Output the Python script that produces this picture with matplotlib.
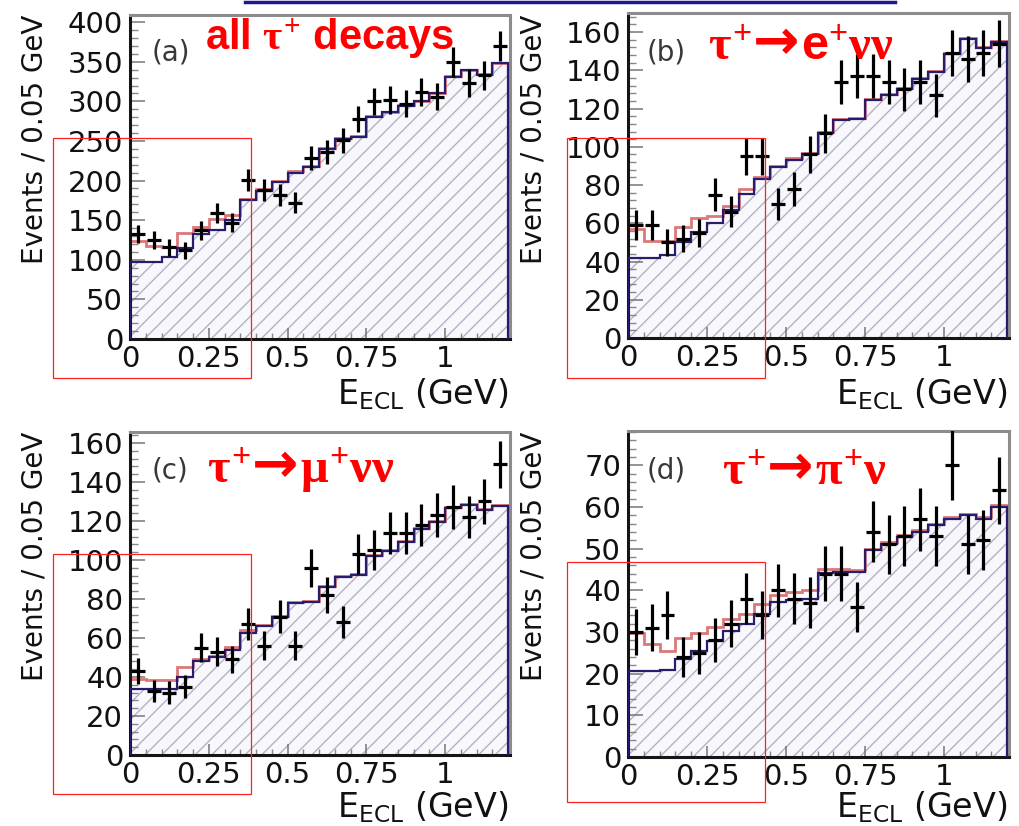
import numpy as np
import matplotlib
matplotlib.use("Agg")
import matplotlib.pyplot as plt
from matplotlib.ticker import MultipleLocator, FuncFormatter
from matplotlib.patches import Rectangle
from matplotlib.lines import Line2D
from matplotlib.offsetbox import TextArea, HPacker, AnchoredOffsetbox

# ---------------- data ----------------
BIN_WIDTH = 0.05
N_BINS = 24
X_MAX = 1.206

# (a) all tau+ decays
data_a = [133, 125, 116, 112, 137, 159, 147, 201, 188, 182, 172, 229,
          236, 251, 278, 300, 302, 297, 312, 306, 350, 323, 333, 370]
err_a = [11.5, 11.2, 10.8, 10.6, 11.7, 12.6, 12.1, 14.2, 13.7, 13.5, 13.1, 15.1,
         15.4, 15.8, 16.7, 17.3, 17.4, 17.2, 17.7, 17.5, 18.7, 18.0, 18.2, 19.2]
total_a = [124, 117, 116, 134, 142, 151, 157, 177, 189, 200, 212, 219,
           241, 254, 256, 281, 287, 296, 301, 311, 332, 340, 334, 349]
bkg_a = [97, 97, 103, 115, 133, 137, 150, 175, 187, 198, 210, 217,
         240, 253, 255, 280, 286, 294, 300, 310, 331, 339, 333, 348]

# (b) tau+ -> e+ nu nu
data_b = [59, 59, 50, 52, 55, 75, 66, 95, 95, 70, 78, 96,
          107, 134, 137, 137, 134, 130, 134, 127, 149, 146, 149, 154]
err_b = [7.7, 7.7, 7.1, 7.2, 7.4, 8.7, 8.1, 9.7, 9.7, 8.4, 8.8, 9.8,
         10.3, 11.6, 11.7, 11.7, 11.6, 11.4, 11.6, 11.3, 12.2, 12.1, 12.2, 12.4]
total_b = [57, 51, 51, 58, 63, 64, 69, 78, 84, 90, 94, 97,
           107.5, 114.5, 115, 125, 127.5, 131, 136, 139.5, 149, 157, 152, 155.5]
bkg_b = [42, 42, 43.5, 50, 55.5, 60, 67, 75.5, 83, 89.5, 93, 96.5,
         107, 114, 114.5, 124.5, 127, 130.5, 135.5, 139, 148.7, 156.6, 151.5, 155]

# (c) tau+ -> mu+ nu nu
data_c = [43, 33, 32, 35, 55, 53, 49, 67, 56, 71, 56, 96,
          82, 68, 103, 105, 114, 114, 118, 123, 127, 122, 130, 149]
err_c = [6.6, 5.7, 5.7, 5.9, 7.4, 7.3, 7.0, 8.2, 7.5, 8.4, 7.5, 9.8,
         9.1, 8.2, 10.1, 10.2, 10.7, 10.7, 10.9, 11.1, 11.3, 11.0, 11.4, 12.2]
total_c = [39, 38.5, 38.5, 45, 49, 51, 55.5, 64, 66.5, 71.5, 78.5, 79,
           86.5, 92, 93, 102.5, 105, 109.5, 116.5, 120, 127, 128.5, 126, 128.3]
bkg_c = [34, 34, 34, 40, 48, 50.5, 54, 62.5, 66, 71, 78, 78.6,
         86, 91.4, 92.3, 102, 104.5, 109, 116, 119.5, 126.5, 128, 125.6, 127.8]

# (d) tau+ -> pi+ nu
data_d = [30, 31, 34, 24, 25, 28, 32, 38, 34, 40, 38, 37,
          44, 44, 36, 54, 51, 53, 57, 53, 70, 51, 52, 64]
err_d = [5.5, 5.6, 5.8, 4.9, 5.0, 5.3, 5.7, 6.2, 5.8, 6.3, 6.2, 6.1,
         6.6, 6.6, 6.0, 7.3, 7.1, 7.3, 7.5, 7.3, 8.4, 7.1, 7.2, 8.0]
total_d = [29.8, 27, 25.5, 28.6, 29.8, 31.2, 33, 34.4, 36.8, 38.8, 39.5, 40,
           45, 45, 44.8, 50, 51.6, 53.2, 54.4, 56, 57.6, 58.4, 57.6, 60.4]
bkg_d = [20.6, 20.6, 20.8, 23.6, 25.4, 27.8, 30.2, 31.8, 34.4, 37.2, 37.6, 37.8,
         44.2, 44.4, 44.4, 49.6, 51.2, 52.8, 54, 55.6, 57.2, 58, 57.2, 60]

panel_tags = ["(a)", "(b)", "(c)", "(d)"]
title_a = r"all $\tau^{+}$ decays"
# decay titles: (parent, arrow, daughters)
decay_titles = {
    1: (r"$\tau^{+}$", "\u2192", r"$\mathsf{e}^{+}\nu\nu$"),
    2: (r"$\tau^{+}$", "\u2192", r"$\mu^{+}\nu\nu$"),
    3: (r"$\tau^{+}$", "\u2192", r"$\pi^{+}\nu$"),
}
y_label = "Events / 0.05 GeV"
x_label = r"E$_{\mathrm{ECL}}$ (GeV)"

# ---------------- style ----------------
W, H = 1019, 826
plt.rcParams["font.family"] = ["DejaVu Sans"]
plt.rcParams["mathtext.fontset"] = "custom"
plt.rcParams["mathtext.rm"] = "Liberation Serif:bold"
plt.rcParams["mathtext.it"] = "Liberation Serif:bold"
plt.rcParams["mathtext.bf"] = "Liberation Serif:bold"
plt.rcParams["mathtext.sf"] = "Liberation Sans:bold"
plt.rcParams["hatch.linewidth"] = 1.0

edges = np.arange(N_BINS + 1) * BIN_WIDTH
centers = edges[:-1] + BIN_WIDTH / 2

fig = plt.figure(figsize=(W / 100, H / 100), dpi=100)
fig.patch.set_facecolor("white")


def fx(x):
    return x / W


def fy(y):
    return 1 - y / H


panels = [
    dict(rect=(130, 15, 510, 339), ymax=409, major=50, minor=10,
         data=data_a, err=err_a, tot=total_a, bkg=bkg_a),
    dict(rect=(628, 13, 1009, 338), ymax=170, major=20, minor=4,
         data=data_b, err=err_b, tot=total_b, bkg=bkg_b),
    dict(rect=(130, 432, 510, 755), ymax=165.6, major=20, minor=4,
         data=data_c, err=err_c, tot=total_c, bkg=bkg_c),
    dict(rect=(628, 431, 1009, 757), ymax=78.2, major=10, minor=2,
         data=data_d, err=err_d, tot=total_d, bkg=bkg_d),
]

for i, p in enumerate(panels):
    x0, y0, x1, y1 = p["rect"]
    ax = fig.add_axes([fx(x0), fy(y1), (x1 - x0) / W, (y1 - y0) / H])
    ax.set_xlim(0, X_MAX)
    ax.set_ylim(0, p["ymax"])
    ax.stairs(p["bkg"], edges, baseline=0, fill=True, facecolor="#f7f7fc",
              edgecolor="#b2b2c4", hatch="//", linewidth=0, zorder=1)
    ax.stairs(p["tot"], edges, baseline=0, color="#dc7878", lw=2.0, zorder=2)
    ax.stairs(p["bkg"], edges, baseline=0, color="#2a1c6c", lw=1.6, zorder=3)
    ax.errorbar(centers, p["data"], yerr=p["err"], xerr=0.022, fmt="none",
                ecolor="black", elinewidth=2.3, capsize=0, zorder=4)

    ax.xaxis.set_major_locator(MultipleLocator(0.25))
    ax.xaxis.set_minor_locator(MultipleLocator(0.05))
    ax.xaxis.set_major_formatter(FuncFormatter(lambda v, pos: "%g" % v))
    ax.yaxis.set_major_locator(MultipleLocator(p["major"]))
    ax.yaxis.set_minor_locator(MultipleLocator(p["minor"]))
    ax.tick_params(axis="y", which="major", direction="in", length=11,
                   width=1.1, color="#777777", labelsize=21, pad=5,
                   labelcolor="#111111")
    ax.tick_params(axis="y", which="minor", direction="in", length=6,
                   width=1.0, color="#888888")
    ax.tick_params(axis="x", which="major", direction="in", length=8,
                   width=1.1, color="#777777", labelsize=21, pad=4,
                   labelcolor="#111111")
    ax.tick_params(axis="x", which="minor", direction="in", length=4,
                   width=1.0, color="#888888")
    for s in ("left", "bottom"):
        ax.spines[s].set_color("#151515")
        ax.spines[s].set_linewidth(2.2)
    for s in ("top", "right"):
        ax.spines[s].set_color("#8c8c8c")
        ax.spines[s].set_linewidth(2.2)

# panel texts (pixel positions)
tag_pos = [(152, 52), (647, 52), (152, 470), (647, 470)]
title_pos = [(205, 38), (708, 44), (207, 467), (722, 469)]
ylab_pos = [(35, 15), (533, 15), (35, 432), (533, 432)]
xlab_pos = [(508, 404), (1007, 404), (508, 817), (1007, 817)]

red = "#ff0000"
for i in range(4):
    fig.text(fx(tag_pos[i][0]), fy(tag_pos[i][1]), panel_tags[i],
             fontsize=20, color="#383838", ha="left", va="center")
    if i == 0:
        fig.text(fx(title_pos[i][0]), fy(title_pos[i][1]), title_a,
                 fontsize=30, color=red, ha="left", va="center",
                 family="Liberation Sans", weight="bold")
    else:
        parent, arrow, daughters = decay_titles[i]
        kids = [
            TextArea(parent, textprops=dict(fontsize=35, color=red)),
            TextArea(arrow, textprops=dict(fontsize=40, color=red,
                                           family="DejaVu Sans",
                                           weight="bold")),
            TextArea(daughters, textprops=dict(fontsize=35, color=red)),
        ]
        box = HPacker(children=kids, align="baseline", pad=0, sep=1)
        anch = AnchoredOffsetbox(loc="center left", child=box, pad=0,
                                 borderpad=0, frameon=False,
                                 bbox_to_anchor=(fx(title_pos[i][0]),
                                                 fy(title_pos[i][1])),
                                 bbox_transform=fig.transFigure)
        fig.add_artist(anch)
    fig.text(fx(ylab_pos[i][0]), fy(ylab_pos[i][1]), y_label, rotation=90,
             fontsize=20, color="#111111", ha="center", va="top")
    fig.text(fx(xlab_pos[i][0]), fy(xlab_pos[i][1]), x_label,
             fontsize=24, color="#111111", ha="right", va="baseline",
             math_fontfamily="dejavusans")

# red highlight boxes
boxes = [(53, 138, 251, 378), (567, 138, 765, 378),
         (53, 554, 251, 794), (567, 562, 765, 802)]
for (bx0, by0, bx1, by1) in boxes:
    fig.add_artist(Rectangle((fx(bx0), fy(by1)), (bx1 - bx0) / W,
                             (by1 - by0) / H, transform=fig.transFigure,
                             fill=False, edgecolor="#ff2020", lw=0.9,
                             zorder=10))

# top blue slide edge
fig.add_artist(Line2D([fx(245), fx(895)], [fy(1.5), fy(1.5)],
                      transform=fig.transFigure, color="#1a1a90", lw=2.5))

fig.savefig("out.png", dpi=100)
